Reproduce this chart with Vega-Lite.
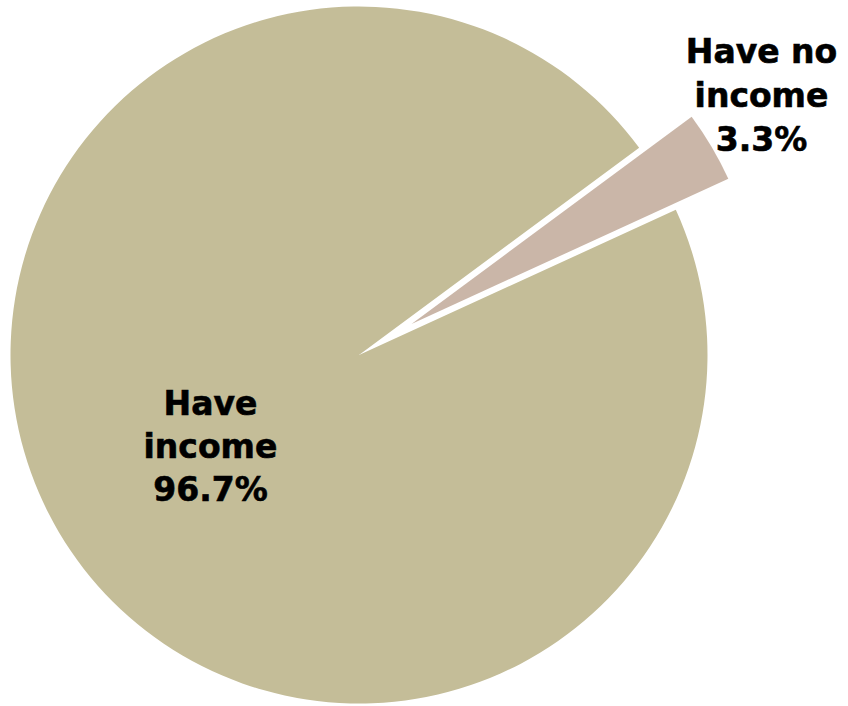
{
  "$schema": "https://vega.github.io/schema/vega-lite/v6.json",
  "width": 718,
  "height": 710,
  "autosize": {"type": "none"},
  "padding": {"left": 0, "top": 0, "right": 130, "bottom": 0},
  "background": "white",
  "config": {"view": {"stroke": null}},
  "data": {
    "values": [
      {"cat": "Have no income", "pct": 3.3, "label": ["Have no", "income", "3.3%"]},
      {"cat": "Have income", "pct": 96.7, "label": ["Have", "income", "96.7%"]}
    ]
  },
  "transform": [
    {"stack": "pct", "groupby": [], "sort": [{"field": "cat", "order": "descending"}], "as": ["s", "e"]},
    {"calculate": "(datum.s + datum.e) / 2", "as": "mid"}
  ],
  "layer": [
    {
      "transform": [{"filter": "datum.cat === 'Have income'"}],
      "mark": {"type": "arc", "radius": 348.5, "fill": "#C4BD98", "stroke": null},
      "encoding": {
        "theta": {"field": "s", "type": "quantitative", "scale": {"domain": [0, 100], "range": [0.9338, 7.217]}},
        "theta2": {"field": "e"}
      }
    },
    {
      "transform": [{"filter": "datum.cat === 'Have no income'"}],
      "mark": {"type": "arc", "radius": 348.5, "fill": "#CAB6A8", "stroke": null, "xOffset": 52.5, "yOffset": -31},
      "encoding": {
        "theta": {"field": "s", "type": "quantitative"},
        "theta2": {"field": "e"}
      }
    },
    {
      "transform": [{"filter": "datum.cat === 'Have income'"}],
      "mark": {"type": "text", "radius": 172.5, "dy": -38, "font": "DejaVu Sans", "fontWeight": "bold", "fontSize": 33, "lineHeight": 43, "align": "center", "baseline": "middle", "color": "#000000", "stroke": "#000000", "strokeWidth": 0.6},
      "encoding": {
        "theta": {"field": "mid", "type": "quantitative"},
        "text": {"field": "label"}
      }
    },
    {
      "transform": [{"filter": "datum.cat === 'Have no income'"}],
      "mark": {"type": "text", "radius": 479, "dx": -10, "dy": -58, "font": "DejaVu Sans", "fontWeight": "bold", "fontSize": 33, "lineHeight": 44, "align": "center", "baseline": "middle", "color": "#000000", "stroke": "#000000", "strokeWidth": 0.6},
      "encoding": {
        "theta": {"field": "mid", "type": "quantitative"},
        "text": {"field": "label"}
      }
    }
  ]
}
